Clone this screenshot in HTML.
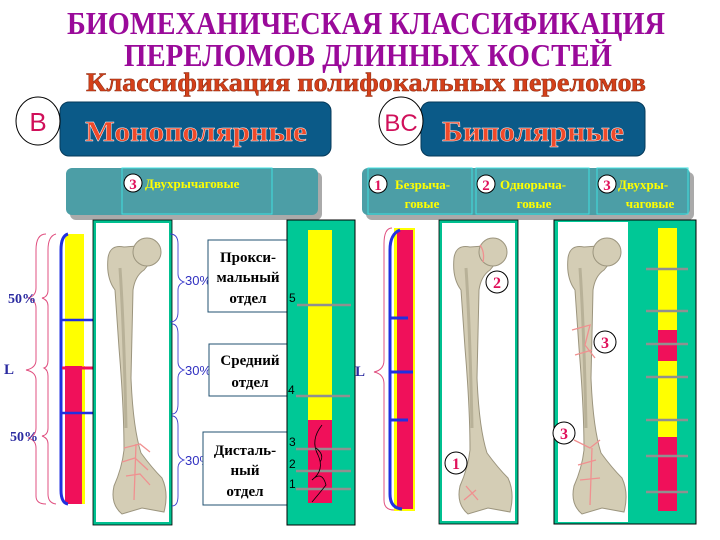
<!DOCTYPE html>
<html><head><meta charset="utf-8"><style>
body{margin:0;background:#fff;}
svg{display:block;}
</style></head><body>
<svg width="720" height="540" viewBox="0 0 720 540" xmlns="http://www.w3.org/2000/svg" font-family="Liberation Serif, serif">
<defs>
<g id="bone">
<path d="M8,30 Q10,16 24,19 L38,18 L52,32 L44,42 Q35,48 33,62 L31,150 Q33,200 41,225 Q52,240 62,250 Q69,265 64,284 L42,280 L22,286 Q10,276 14,258 Q22,240 24,222 Q24,180 19,120 L15,62 Q6,50 8,30 Z" fill="#d4cdb5" stroke="#9c957e" stroke-width="1"/>
<circle cx="47" cy="24" r="14" fill="#d4cdb5" stroke="#9c957e"/>
<path d="M20,40 Q24,100 26,200" stroke="#b8b198" fill="none" stroke-width="3"/>
</g>
</defs>

<!-- titles -->
<text x="366" y="34" text-anchor="middle" font-size="32" font-weight="bold" fill="#9a0a9a" textLength="598" lengthAdjust="spacingAndGlyphs">БИОМЕХАНИЧЕСКАЯ  КЛАССИФИКАЦИЯ</text>
<text x="368" y="66" text-anchor="middle" font-size="32" font-weight="bold" fill="#9a0a9a" textLength="488" lengthAdjust="spacingAndGlyphs">ПЕРЕЛОМОВ  ДЛИННЫХ  КОСТЕЙ</text>
<text x="366" y="91" text-anchor="middle" font-size="26" font-weight="bold" fill="#d4401a" stroke="#8a2a10" stroke-width="0.5" textLength="560" lengthAdjust="spacingAndGlyphs">Классификация полифокальных переломов</text>

<!-- header boxes -->
<rect x="60" y="102" width="271" height="54" rx="9" fill="#0b5a88" stroke="#063a5a"/>
<text x="196" y="141" text-anchor="middle" font-size="28" font-weight="bold" fill="#f04a2a" stroke="#fff" stroke-width="0.4" textLength="222" lengthAdjust="spacingAndGlyphs">Монополярные</text>
<ellipse cx="38" cy="121" rx="22" ry="24" fill="#fff" stroke="#000"/>
<text x="38" y="131" text-anchor="middle" font-size="26" fill="#d0105a" font-family="Liberation Sans, sans-serif">B</text>

<rect x="421" y="102" width="224" height="54" rx="9" fill="#0b5a88" stroke="#063a5a"/>
<text x="533" y="141" text-anchor="middle" font-size="28" font-weight="bold" fill="#f04a2a" stroke="#fff" stroke-width="0.4" textLength="182" lengthAdjust="spacingAndGlyphs">Биполярные</text>
<ellipse cx="401" cy="121" rx="22" ry="24" fill="#fff" stroke="#000"/>
<text x="401" y="131" text-anchor="middle" font-size="24" fill="#d0105a" font-family="Liberation Sans, sans-serif">BC</text>

<!-- teal panels -->
<rect x="70" y="172" width="252" height="48" rx="6" fill="#aaaaaa"/>
<rect x="66" y="168" width="252" height="47" rx="6" fill="#4c9ea6"/>
<rect x="122" y="168" width="150" height="46" fill="none" stroke="#40e0e0"/>
<circle cx="133" cy="183" r="9" fill="#fff" stroke="#000"/>
<text x="133" y="189" text-anchor="middle" font-size="15" font-weight="bold" fill="#e0105a">3</text>
<text x="145" y="188" font-size="13" font-weight="bold" fill="#ffff00">Двухрычаговые</text>

<rect x="366" y="172" width="328" height="48" rx="6" fill="#aaaaaa"/>
<rect x="362" y="168" width="328" height="47" rx="6" fill="#4c9ea6"/>
<rect x="368" y="168" width="104" height="46" fill="none" stroke="#40e0e0"/>
<rect x="476" y="168" width="113" height="46" fill="none" stroke="#40e0e0"/>
<rect x="597" y="168" width="91" height="46" fill="none" stroke="#40e0e0"/>
<circle cx="378" cy="184" r="9" fill="#fff" stroke="#000"/>
<text x="378" y="190" text-anchor="middle" font-size="15" font-weight="bold" fill="#e0105a">1</text>
<text x="395" y="189" font-size="13" font-weight="bold" fill="#ffff00">Безрыча-</text>
<text x="422" y="208" text-anchor="middle" font-size="13" font-weight="bold" fill="#ffff00">говые</text>
<circle cx="486" cy="184" r="9" fill="#fff" stroke="#000"/>
<text x="486" y="190" text-anchor="middle" font-size="15" font-weight="bold" fill="#e0105a">2</text>
<text x="500" y="189" font-size="13" font-weight="bold" fill="#ffff00">Однорыча-</text>
<text x="534" y="208" text-anchor="middle" font-size="13" font-weight="bold" fill="#ffff00">говые</text>
<circle cx="607" cy="184" r="9" fill="#fff" stroke="#000"/>
<text x="607" y="190" text-anchor="middle" font-size="15" font-weight="bold" fill="#e0105a">3</text>
<text x="618" y="189" font-size="13" font-weight="bold" fill="#ffff00">Двухры-</text>
<text x="650" y="208" text-anchor="middle" font-size="13" font-weight="bold" fill="#ffff00">чаговые</text>

<!-- LEFT section -->
<path d="M46,234 Q36,234 36,250 L36,288 Q36,296 28,298 Q36,300 36,308 L36,360 Q36,368 26,370 Q36,372 36,380 L36,428 Q36,436 28,438 Q36,440 36,448 L36,496 Q36,504 46,504" fill="none" stroke="#e05080"/>
<path d="M56,234 Q48,236 48,250 L48,290 Q48,297 42,298 Q48,300 48,306 L48,360 Q48,367 44,368 Q48,370 48,376 L48,428 Q48,435 42,436 Q48,438 48,444 L48,494 Q48,503 56,504" fill="none" stroke="#e05080"/>
<rect x="65" y="234" width="19" height="132" fill="#ffff00"/>
<rect x="65" y="366" width="19" height="138" fill="#f0105a"/>
<rect x="82" y="366" width="3" height="138" fill="#ffff00"/>
<path d="M68,234 Q61,236 61,250 L61,490 Q61,503 68,504" fill="none" stroke="#2030e0" stroke-width="3"/>
<line x1="62" y1="320" x2="167" y2="320" stroke="#2030e0" stroke-width="2.5"/>
<line x1="62" y1="413" x2="172" y2="413" stroke="#2030e0" stroke-width="2.5"/>
<line x1="62" y1="368" x2="144" y2="368" stroke="#f0105a" stroke-width="3"/>
<text x="8" y="303" font-size="14" font-weight="bold" fill="#2a2aa0">50%</text>
<text x="4" y="374" font-size="15" font-weight="bold" fill="#2a2aa0">L</text>
<text x="10" y="441" font-size="14" font-weight="bold" fill="#2a2aa0">50%</text>

<rect x="94.5" y="221.5" width="76" height="302" fill="#fff" stroke="#00c090" stroke-width="3"/>
<rect x="93" y="220" width="79" height="305" fill="none" stroke="#000" stroke-width="0.8"/>
<use href="#bone" x="100" y="228"/>
<path d="M124,448 L140,444 L150,452 M122,462 L135,458 L148,470 M126,476 L140,474 L150,485 M136,444 L134,500" fill="none" stroke="#f09090" stroke-width="1.3"/>

<!-- 30% braces -->
<g fill="none" stroke="#4040d0" stroke-width="0.9">
<path d="M170,234 Q178,234 178,244 L178,274 Q178,280 184,282 Q178,284 178,290 L178,312 Q178,322 170,322"/>
<path d="M172,324 Q178,324 178,334 L178,362 Q178,368 184,370 Q178,372 178,378 L178,404 Q178,414 172,414"/>
<path d="M172,416 Q178,416 178,426 L178,452 Q178,458 184,460 Q178,462 178,468 L178,496 Q178,506 172,506"/>
</g>
<text x="185" y="285" font-size="13" fill="#3030c0" font-family="Liberation Sans, sans-serif">30%</text>
<text x="185" y="375" font-size="13" fill="#3030c0" font-family="Liberation Sans, sans-serif">30%</text>
<text x="185" y="465" font-size="13" fill="#3030c0" font-family="Liberation Sans, sans-serif">30%</text>

<rect x="208" y="240" width="79" height="72" fill="#fff" stroke="#205070"/>
<text x="248" y="262" text-anchor="middle" font-size="15" font-weight="bold" fill="#000">Прокси-</text>
<text x="248" y="282" text-anchor="middle" font-size="15" font-weight="bold" fill="#000">мальный</text>
<text x="248" y="303" text-anchor="middle" font-size="15" font-weight="bold" fill="#000">отдел</text>
<rect x="209" y="344" width="78" height="52" fill="#fff" stroke="#205070"/>
<text x="250" y="365" text-anchor="middle" font-size="15" font-weight="bold" fill="#000">Средний</text>
<text x="250" y="387" text-anchor="middle" font-size="15" font-weight="bold" fill="#000">отдел</text>
<rect x="203" y="432" width="84" height="73" fill="#fff" stroke="#205070"/>
<text x="245" y="455" text-anchor="middle" font-size="15" font-weight="bold" fill="#000">Дисталь-</text>
<text x="245" y="475" text-anchor="middle" font-size="15" font-weight="bold" fill="#000">ный</text>
<text x="245" y="496" text-anchor="middle" font-size="15" font-weight="bold" fill="#000">отдел</text>

<rect x="287" y="220" width="68" height="305" fill="#00c896" stroke="#000"/>
<rect x="308" y="230" width="24" height="190" fill="#ffff00"/>
<rect x="308" y="420" width="24" height="83" fill="#f0105a"/>
<g stroke="#909090" stroke-width="2.5">
<line x1="297" y1="305" x2="351" y2="305"/><line x1="296" y1="396" x2="350" y2="396"/>
<line x1="296" y1="449" x2="351" y2="449"/><line x1="296" y1="471" x2="351" y2="471"/><line x1="296" y1="489" x2="351" y2="489"/>
</g>
<path d="M322,425 Q310,440 318,455 Q325,470 312,480 Q322,470 326,485 Q318,495 312,502 M316,448 Q325,455 320,462" fill="none" stroke="#000" stroke-width="0.8"/>
<g font-size="12" fill="#000" font-family="Liberation Sans, sans-serif">
<text x="289" y="302">5</text><text x="288" y="394">4</text><text x="289" y="446">3</text><text x="289" y="468">2</text><text x="289" y="488">1</text>
</g>

<!-- RIGHT section -->
<text x="355" y="376" font-size="15" font-weight="bold" fill="#2a2aa0">L</text>
<path d="M392,228 Q384,228 384,244 L384,360 Q384,370 374,372 Q384,374 384,384 L384,500 Q384,510 394,510" fill="none" stroke="#e05080"/>
<rect x="394" y="228" width="21" height="283" fill="#ffff00"/>
<rect x="397" y="230" width="16" height="279" fill="#f0105a"/>
<path d="M400,230 Q390,234 390,250 L390,494 Q390,508 402,509" fill="none" stroke="#2030e0" stroke-width="3"/>
<g stroke="#2030e0" stroke-width="3"><line x1="390" y1="318" x2="408" y2="318"/><line x1="390" y1="372" x2="413" y2="372"/><line x1="390" y1="420" x2="408" y2="420"/></g>

<rect x="440.5" y="221.5" width="76" height="301" fill="#fff" stroke="#00c090" stroke-width="3"/>
<rect x="439" y="220" width="79" height="304" fill="none" stroke="#000" stroke-width="0.8"/>
<use href="#bone" x="446" y="228"/>
<path d="M480,245 Q485,252 483,262 M466,486 L478,500 M464,500 L476,490" fill="none" stroke="#f09090" stroke-width="1.3"/>
<circle cx="497" cy="282" r="11" fill="#fff" stroke="#000"/>
<text x="497" y="288" text-anchor="middle" font-size="16" font-weight="bold" fill="#e0105a">2</text>
<circle cx="456" cy="463" r="11" fill="#fff" stroke="#000"/>
<text x="456" y="469" text-anchor="middle" font-size="16" font-weight="bold" fill="#e0105a">1</text>

<rect x="554" y="220" width="142" height="304" fill="#00c896" stroke="#000"/>
<rect x="558" y="222" width="70" height="300" fill="#fff"/>
<use href="#bone" x="560" y="228"/>
<path d="M572,330 L590,325 L585,345 L595,358 M575,355 L592,350 M574,440 L590,448 L600,440 M578,465 L596,460 M580,480 L600,478 M592,448 L590,505" fill="none" stroke="#f09090" stroke-width="1.3"/>
<circle cx="605" cy="342" r="11" fill="#fff" stroke="#000"/>
<text x="605" y="348" text-anchor="middle" font-size="16" font-weight="bold" fill="#e0105a">3</text>
<circle cx="564" cy="433" r="11" fill="#fff" stroke="#000"/>
<text x="564" y="439" text-anchor="middle" font-size="16" font-weight="bold" fill="#e0105a">3</text>
<rect x="658" y="228" width="19" height="102" fill="#ffff00"/>
<rect x="658" y="330" width="19" height="31" fill="#f0105a"/>
<rect x="658" y="361" width="19" height="76" fill="#ffff00"/>
<rect x="658" y="437" width="19" height="74" fill="#f0105a"/>
<g stroke="#909090" stroke-width="2.5">
<line x1="646" y1="269" x2="688" y2="269"/><line x1="646" y1="311" x2="688" y2="311"/><line x1="646" y1="344" x2="688" y2="344"/>
<line x1="646" y1="377" x2="688" y2="377"/><line x1="646" y1="420" x2="688" y2="420"/><line x1="646" y1="456" x2="688" y2="456"/><line x1="646" y1="492" x2="688" y2="492"/>
</g>
</svg>
</body></html>
